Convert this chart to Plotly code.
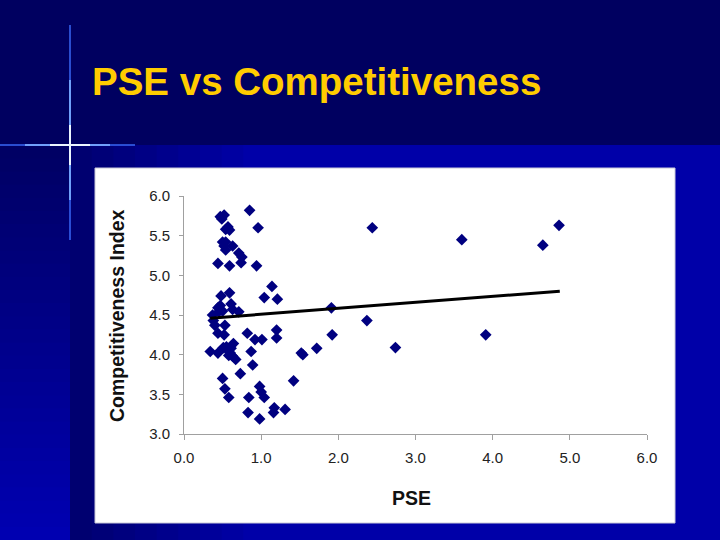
import plotly.graph_objects as go

# PSE (x) and Competitiveness Index (y)
pse = [0.34, 0.44, 0.52, 0.47, 0.49, 0.85, 0.96, 0.54, 0.59, 0.57,
       0.50, 0.54, 0.52, 0.54, 0.63, 0.71, 0.75, 0.74, 0.44, 0.59,
       0.94, 1.14, 1.04, 1.21, 0.48, 0.59, 0.61, 0.63, 0.71, 0.44,
       0.47, 0.50, 0.45, 0.38, 0.40, 0.53, 0.44, 0.52, 0.82, 0.92,
       1.01, 1.20, 1.20, 1.91, 1.92, 2.37, 2.44, 3.60, 4.65, 4.86,
       3.91, 2.74, 1.72, 1.52, 1.54, 1.42, 1.31, 1.17, 1.16, 0.98,
       0.83, 0.84, 0.98, 1.00, 1.04, 0.89, 0.87, 0.73, 0.67, 0.50,
       0.53, 0.58, 0.51, 0.56, 0.60, 0.63, 0.64, 0.58, 0.55, 0.61,
       0.37]
competitiveness = [4.04, 4.02, 5.76, 5.74, 5.71, 5.82, 5.60, 5.58, 5.57, 5.61,
                   5.42, 5.42, 5.37, 5.32, 5.37, 5.28, 5.23, 5.16, 5.15, 5.12,
                   5.12, 4.86, 4.72, 4.70, 4.74, 4.78, 4.64, 4.57, 4.54, 4.59,
                   4.62, 4.55, 4.54, 4.43, 4.37, 4.37, 4.27, 4.25, 4.27, 4.19,
                   4.19, 4.31, 4.21, 4.59, 4.25, 4.43, 5.60, 5.45, 5.38, 5.63,
                   4.25, 4.09, 4.08, 4.02, 4.00, 3.67, 3.31, 3.33, 3.27, 3.19,
                   3.27, 3.46, 3.60, 3.53, 3.46, 3.87, 4.04, 3.76, 3.94, 3.70,
                   3.57, 3.46, 4.09, 4.06, 4.02, 3.98, 4.14, 3.99, 4.10, 4.08,
                   4.50]

# linear trend line end points
trend_x = [0.34, 4.87]
trend_y = [4.46, 4.80]

tick_vals_x = [0, 1, 2, 3, 4, 5, 6]
tick_vals_y = [3.0, 3.5, 4.0, 4.5, 5.0, 5.5, 6.0]

W, H = 720, 540
L, R, T, B = 184, 647, 196, 434   # plot area in pixels


def px(x):
    return (x - L) / (R - L)


def py(y):
    return (B - y) / (B - T)


def rect(x0, y0, x1, y1, color, line=None):
    return dict(type='rect', xref='paper', yref='paper',
                x0=px(x0), x1=px(x1), y0=py(y1), y1=py(y0),
                fillcolor=color, line=line or dict(width=0), layer='below')


def mix(c0, c1, t):
    return 'rgb({},{},{})'.format(*[int(a + (b - a) * t) for a, b in zip(c0, c1)])


shapes = []
# lower slide area, horizontal gradient dark -> blue
n = 30
for i in range(n):
    x0 = 70 + (720 - 70) * i / n
    x1 = 70 + (720 - 70) * (i + 1) / n + 1
    shapes.append(rect(x0, 145, x1, 540, mix((0, 0, 112), (0, 0, 168), min(1, i / 8))))
# left strip, vertical gradient
for i in range(n):
    y0 = 145 + (540 - 145) * i / n
    y1 = 145 + (540 - 145) * (i + 1) / n + 1
    shapes.append(rect(0, y0, 70, y1, mix((0, 0, 100), (0, 0, 180), i / n)))

# star flare
for (x0, x1, w, c) in [(0, 135, 2, 'rgba(60,110,255,0.7)'), (25, 110, 2, 'rgba(120,170,255,0.9)'),
                       (50, 90, 2, 'rgba(235,245,255,1)')]:
    shapes.append(dict(type='line', xref='paper', yref='paper', x0=px(x0), x1=px(x1),
                       y0=py(145), y1=py(145), line=dict(color=c, width=w), layer='below'))
for (y0, y1, w, c) in [(25, 240, 2, 'rgba(60,110,255,0.7)'), (80, 200, 2, 'rgba(120,170,255,0.9)'),
                       (125, 165, 2, 'rgba(235,245,255,1)')]:
    shapes.append(dict(type='line', xref='paper', yref='paper', x0=px(70), x1=px(70),
                       y0=py(y0), y1=py(y1), line=dict(color=c, width=w), layer='below'))

# white chart panel
shapes.append(rect(95, 168, 675, 523, 'white', line=dict(color='#c8c8d8', width=1)))

fig = go.Figure()
fig.add_trace(go.Scatter(
    x=pse, y=competitiveness, mode='markers',
    marker=dict(symbol='diamond', size=9, color='#000080', line=dict(width=0)),
    showlegend=False))
fig.add_trace(go.Scatter(
    x=trend_x, y=trend_y, mode='lines',
    line=dict(color='black', width=3), showlegend=False))

axis_font = dict(family='Liberation Sans, Arial', size=15, color='#222')
fig.update_xaxes(range=[0, 6], tickvals=tick_vals_x,
                 ticktext=['{:.1f}'.format(v) for v in tick_vals_x],
                 showgrid=False, zeroline=False, showline=True, linecolor='#a0a0a0',
                 linewidth=1, ticks='outside', ticklen=5, tickcolor='#a0a0a0',
                 tickfont=axis_font, ticklabelstandoff=5)
fig.update_yaxes(range=[3, 6], tickvals=tick_vals_y,
                 ticktext=['{:.1f}'.format(v) for v in tick_vals_y],
                 showgrid=False, zeroline=False, showline=True, linecolor='#a0a0a0',
                 linewidth=1, ticks='outside', ticklen=4, tickcolor='#a0a0a0',
                 tickfont=axis_font, ticklabelstandoff=6)

annotations = [
    dict(text='<b>PSE vs Competitiveness</b>', xref='paper', yref='paper',
         x=px(90), y=py(82), xanchor='left', yanchor='middle', showarrow=False,
         font=dict(family='Liberation Sans, Arial', size=38.5, color='#ffcc00')),
    dict(text='<b>Competitiveness Index</b>', xref='paper', yref='paper',
         x=px(117), y=py(316), textangle=-90, showarrow=False,
         xanchor='center', yanchor='middle',
         font=dict(family='Liberation Sans, Arial', size=19.5, color='#111')),
    dict(text='<b>PSE</b>', xref='paper', yref='paper',
         x=px(411), y=py(498), showarrow=False, xanchor='center', yanchor='middle',
         font=dict(family='Liberation Sans, Arial', size=19.5, color='#111')),
]

fig.update_layout(
    width=W, height=H,
    margin=dict(l=L, r=W - R, t=T, b=H - B, pad=0),
    paper_bgcolor='#000060', plot_bgcolor='rgba(0,0,0,0)',
    shapes=shapes, annotations=annotations)

fig.write_html('out.html', config={'displayModeBar': False},
               post_script="document.body.style.margin='0';")
